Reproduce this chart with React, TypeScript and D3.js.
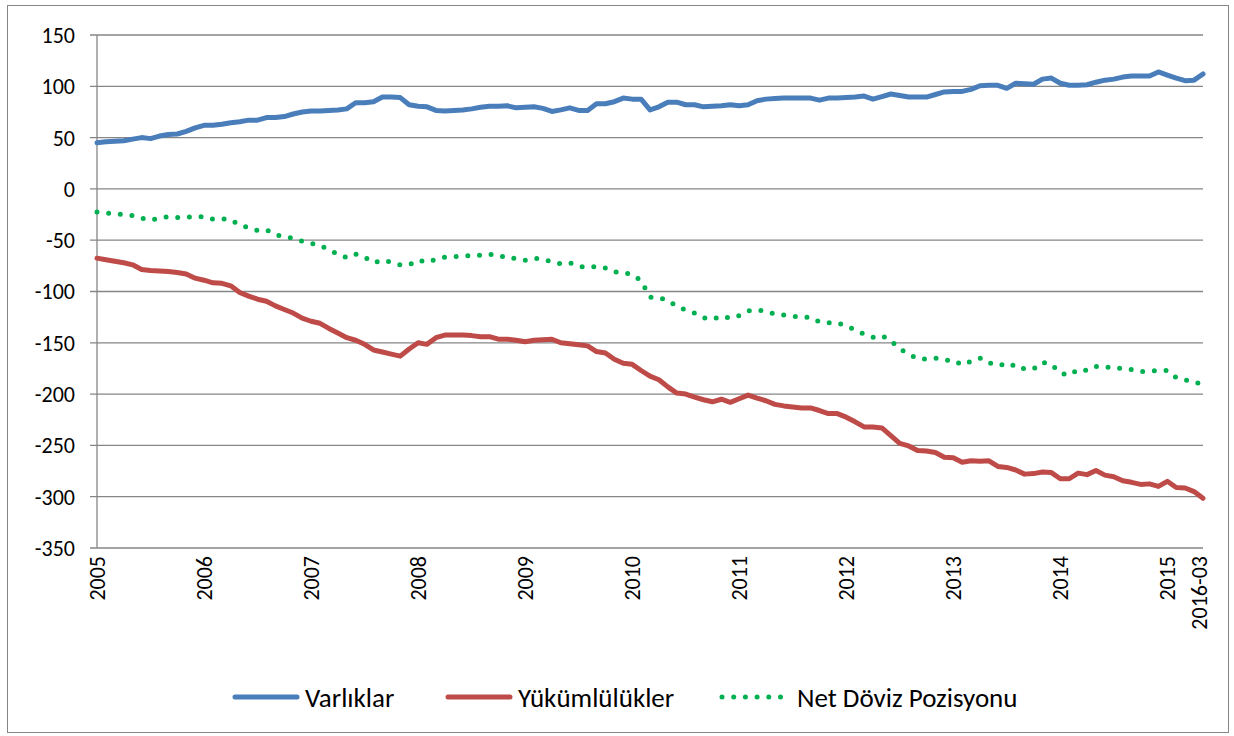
import React from "react";
import * as d3 from "d3";

// monthly 2005-01 .. 2014-12, then quarterly to 2016-03
const months: string[] = [];
for (let y = 2005; y <= 2014; y++) {
  for (let m = 1; m <= 12; m++) months.push(`${y}-${String(m).padStart(2, "0")}`);
}
const categories = [...months, "2015-03", "2015-06", "2015-09", "2015-12", "2016-03"];

const xTickCats = ["2005-01", "2006-01", "2007-01", "2008-01", "2009-01", "2010-01", "2011-01", "2012-01", "2013-01", "2014-01", "2015-03", "2016-03"];
const xTickLabels = ["2005", "2006", "2007", "2008", "2009", "2010", "2011", "2012", "2013", "2014", "2015", "2016-03"];
const yTicks = [150, 100, 50, 0, -50, -100, -150, -200, -250, -300, -350];

const varliklar = [
  45, 46, 46.5, 47, 48.5, 50, 49, 51.5, 53, 53.5, 56, 59.5,
  62, 62, 63, 64.5, 65.5, 67, 67, 69.5, 69.5, 70.5, 73, 75,
  76, 76, 76.5, 77, 78, 84, 84, 85, 89.5, 89.5, 89, 82,
  80.5, 80, 76.5, 76, 76.5, 77, 78, 79.5, 80.5, 80.5, 81, 79,
  79.5, 80, 78.5, 75.5, 77, 79, 76.5, 76.5, 83, 83, 85, 88.5,
  87.5, 87.5, 77, 80, 84.5, 84.5, 82, 82, 80, 80.5, 81, 82,
  81, 82, 86, 87.5, 88, 88.5, 88.5, 88.5, 88.5, 86.5, 88.5, 88.5,
  89, 89.5, 90.5, 87.5, 90, 92.5, 91, 89.5, 89.5, 89.5, 92, 94.5,
  95, 95, 97, 100.5, 101, 101, 98, 103, 102.5, 102, 107, 108,
  103, 101, 101, 101.5, 104, 106, 107, 109, 110, 110, 110, 114,
  111, 108, 105.5, 106, 112,
];

const yukumlulukler = [
  -67.5, -69, -70.5, -72, -74, -78.5, -79.5, -80, -80.5, -81.5, -83, -87,
  -89, -91.5, -92, -94.5, -101, -104.5, -107.5, -109.5, -114, -117.5, -121, -126,
  -129, -131, -136, -140.5, -145, -147.5, -151.5, -157, -159, -161, -163, -156,
  -150, -151.5, -145, -142.5, -142.5, -142.5, -143, -144, -144, -146.5, -146.5, -147.5,
  -149, -147.5, -147, -146.5, -150, -151, -152, -153, -158.5, -160, -166, -170,
  -171, -177, -182.5, -186, -193, -199, -200, -203, -205.5, -207.5, -205, -208,
  -204.5, -201, -204, -206.5, -210, -211.5, -212.5, -213.5, -213.5, -216, -219, -219,
  -222.5, -227, -232, -232, -233, -240.5, -248, -250.5, -255, -255.5, -257, -261.5,
  -262, -266.5, -265, -265.5, -265, -270.5, -271.5, -274, -278, -277.5, -276, -276.5,
  -282.5, -282.5, -277, -278.5, -274.5, -279, -280.5, -284.5, -286, -288, -287.5, -290,
  -285, -291, -291.5, -295, -301.5,
];

const netPozisyon = [
  -22.5, -23.5, -24, -25, -26, -28.5, -30.5, -28.5, -27, -28, -27.5, -27.5,
  -27, -29.5, -29, -30, -35.5, -37.5, -40.5, -40, -44.5, -47, -48, -51,
  -53, -55, -59.5, -63.5, -67, -63.5, -66.5, -72, -69.5, -71.5, -74, -74,
  -69.5, -71.5, -68.5, -66.5, -66, -65.5, -65, -64.5, -63.5, -66, -65.5, -68.5,
  -69.5, -67.5, -68.5, -71, -73, -72, -75.5, -76.5, -75.5, -77, -81, -81.5,
  -83.5, -89.5, -105.5, -106, -108.5, -114.5, -118, -121, -125.5, -127, -124, -126,
  -123.5, -119, -118, -119, -122, -123, -124, -125, -125, -129.5, -130.5, -130.5,
  -133.5, -137.5, -141.5, -144.5, -143, -148, -156, -161, -165.5, -166, -165, -167,
  -167, -171.5, -168, -165, -170, -169.5, -173.5, -171, -175.5, -175.5, -169, -171,
  -179.5, -181.5, -176, -177, -173, -174, -173.5, -175.5, -176, -178, -177.5, -177,
  -177, -184, -186, -189, -189.5,
];

const series = [
  { name: "Varlıklar", values: varliklar, color: "#4A7EBB", dotted: false },
  { name: "Yükümlülükler", values: yukumlulukler, color: "#BE4B48", dotted: false },
  { name: "Net Döviz Pozisyonu", values: netPozisyon, color: "#00B050", dotted: true },
];

const W = 1234;
const H = 736;
const margin = { left: 97, right: 31, top: 35, bottom: 188 };
const axisFont = "Carlito, Calibri, 'Liberation Sans', Arial, sans-serif";

export default function App() {
  const x = d3
    .scalePoint<string>()
    .domain(categories)
    .range([margin.left, W - margin.right]);
  const y = d3
    .scaleLinear()
    .domain([-350, 150])
    .range([H - margin.bottom, margin.top]);

  const line = d3
    .line<number>()
    .x((_, i) => x(categories[i]) as number)
    .y((d) => y(d));

  const legend = [
    { s: series[0], lx: 233, tx: 305 },
    { s: series[1], lx: 446, tx: 518 },
    { s: series[2], lx: 720, tx: 797 },
  ];

  return (
    <svg
      width={W}
      height={H}
      style={{ position: "absolute", left: 0, top: 0, background: "#fff" }}
    >
      <rect x={7.5} y={5.5} width={1221} height={727} fill="#fff" stroke="#868686" strokeWidth={1} />

      {/* gridlines */}
      {yTicks.map((t) => (
        <g key={t}>
          <line x1={margin.left - 7} x2={W - margin.right} y1={y(t)} y2={y(t)} stroke="#868686" strokeWidth={1.3} />
          <text
            x={75}
            y={y(t)}
            dy="0.36em"
            textAnchor="end"
            fontFamily={axisFont}
            fontSize={22}
            fill="#000"
          >
            {t}
          </text>
        </g>
      ))}

      {/* y axis */}
      <line x1={margin.left} x2={margin.left} y1={margin.top} y2={y(-350)} stroke="#868686" strokeWidth={1.3} />

      {/* x labels */}
      {xTickCats.map((c, i) => {
        const px = (x(c) as number) + (i === xTickCats.length - 1 ? -4 : 0);
        return (
          <text
            key={c}
            transform={`translate(${px},${y(-350) + 8}) rotate(-90)`}
            dy="0.36em"
            textAnchor="end"
            fontFamily={axisFont}
            fontSize={22}
            fill="#000"
          >
            {xTickLabels[i]}
          </text>
        );
      })}

      {/* series */}
      {series.map((s) => (
        <path
          key={s.name}
          d={line(s.values) ?? ""}
          fill="none"
          stroke={s.color}
          strokeWidth={5}
          strokeLinecap="round"
          strokeLinejoin="round"
          strokeDasharray={s.dotted ? "0 11.7" : undefined}
        />
      ))}

      {/* legend */}
      {legend.map(({ s, lx, tx }) => (
        <g key={s.name}>
          <line
            x1={lx + 2}
            x2={lx + 64}
            y1={697}
            y2={697}
            stroke={s.color}
            strokeWidth={5}
            strokeLinecap="round"
            strokeDasharray={s.dotted ? "0 11.7" : undefined}
          />
          <text x={tx} y={697} dy="0.36em" fontFamily={axisFont} fontSize={27} fill="#000">
            {s.name}
          </text>
        </g>
      ))}
    </svg>
  );
}
